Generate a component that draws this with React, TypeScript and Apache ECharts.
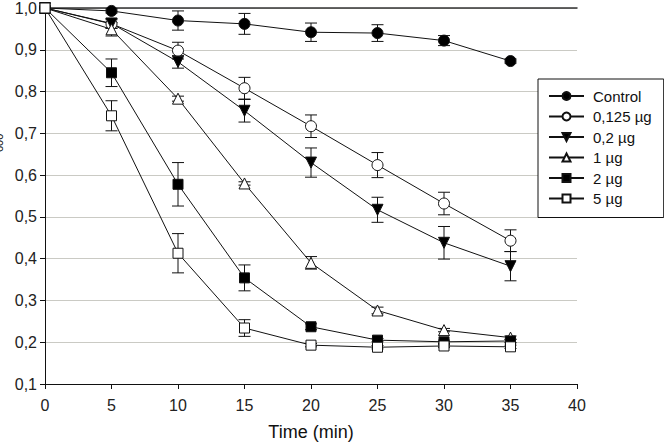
import React, { useEffect, useRef } from "react";
import * as echarts from "echarts";

// Sampling times (min)
const times = [0, 5, 10, 15, 20, 25, 30, 35];

// Axis ticks
const xTicks = { min: 0, max: 40, step: 5 };
const yTicks = { min: 0.1, max: 1.0, step: 0.1 };

// Series names as shown in the legend
const names = ["Control", "0,125 µg", "0,2 µg", "1 µg", "2 µg", "5 µg"];

// Mean OD600 per time point
const control = [1.0, 0.993, 0.97, 0.962, 0.942, 0.94, 0.922, 0.873];
const dose0125 = [1.0, 0.962, 0.898, 0.808, 0.717, 0.624, 0.532, 0.443];
const dose02 = [1.0, 0.963, 0.871, 0.754, 0.63, 0.517, 0.438, 0.382];
const dose1 = [1.0, 0.949, 0.783, 0.58, 0.39, 0.276, 0.229, 0.211];
const dose2 = [1.0, 0.845, 0.578, 0.354, 0.237, 0.205, 0.201, 0.203];
const dose5 = [1.0, 0.742, 0.413, 0.234, 0.193, 0.188, 0.191, 0.189];

// Standard deviations (error bars)
const controlErr = [0, 0.005, 0.023, 0.025, 0.022, 0.02, 0.012, 0.005];
const dose0125Err = [0, 0.01, 0.02, 0.026, 0.027, 0.03, 0.027, 0.026];
const dose02Err = [0, 0.012, 0.015, 0.027, 0.035, 0.03, 0.039, 0.035];
const dose1Err = [0, 0.016, 0.006, 0.004, 0.015, 0.008, 0.004, 0.004];
const dose2Err = [0, 0.033, 0.052, 0.031, 0.007, 0.004, 0.004, 0.004];
const dose5Err = [0, 0.036, 0.047, 0.02, 0.004, 0.004, 0.004, 0.004];

const means = [control, dose0125, dose02, dose1, dose2, dose5];
const errors = [controlErr, dose0125Err, dose02Err, dose1Err, dose2Err, dose5Err];

// Marker styles per series
const markers = [
  { symbol: "circle", size: 11, fill: "#000", rotate: 0 },
  { symbol: "circle", size: 11, fill: "#fff", rotate: 0 },
  { symbol: "triangle", size: 11, fill: "#000", rotate: 180 },
  { symbol: "triangle", size: 11, fill: "#fff", rotate: 0 },
  { symbol: "rect", size: 10, fill: "#000", rotate: 0 },
  { symbol: "rect", size: 10, fill: "#fff", rotate: 0 },
];

const FONT = '"Liberation Sans", Arial, sans-serif';
const INK = "#111";

function errorBarSeries(idx: number) {
  return {
    type: "custom",
    name: names[idx] + " err",
    silent: true,
    z: 1,
    encode: { x: 0, y: 1 },
    data: times.map((t, i) => [t, means[idx][i], errors[idx][i]]),
    renderItem: (_params: any, api: any) => {
      const x = api.value(0);
      const m = api.value(1);
      const e = api.value(2);
      if (!e) return null;
      const hi = api.coord([x, m + e]);
      const lo = api.coord([x, m - e]);
      const hw = 6;
      const st = { stroke: INK, lineWidth: 1 };
      return {
        type: "group",
        children: [
          { type: "line", shape: { x1: hi[0], y1: hi[1], x2: lo[0], y2: lo[1] }, style: st },
          { type: "line", shape: { x1: hi[0] - hw, y1: hi[1], x2: hi[0] + hw, y2: hi[1] }, style: st },
          { type: "line", shape: { x1: lo[0] - hw, y1: lo[1], x2: lo[0] + hw, y2: lo[1] }, style: st },
        ],
      };
    },
  };
}

function lineSeries(idx: number) {
  const mk = markers[idx];
  return {
    type: "line",
    name: names[idx],
    z: 3,
    data: times.map((t, i) => [t, means[idx][i]]),
    symbol: mk.symbol,
    symbolSize: mk.size,
    symbolRotate: mk.rotate,
    showAllSymbol: true,
    lineStyle: { color: INK, width: 1 },
    itemStyle: { color: mk.fill, borderColor: INK, borderWidth: 1 },
    emphasis: { disabled: true },
  };
}

export default function App() {
  const ref = useRef<HTMLDivElement>(null);

  useEffect(() => {
    if (!ref.current) return;
    const chart = echarts.init(ref.current, null, { renderer: "svg" });

    const option: any = {
      animation: false,
      backgroundColor: "#fff",
      grid: { left: 45, right: 87, top: 6, bottom: 56, containLabel: false },
      xAxis: [
        {
          type: "value",
          min: xTicks.min,
          max: xTicks.max,
          interval: xTicks.step,
          position: "bottom",
          name: "Time (min)",
          nameLocation: "middle",
          nameGap: 39,
          nameTextStyle: { fontFamily: FONT, fontSize: 18, color: INK },
          axisLine: { show: true, onZero: false, lineStyle: { color: INK, width: 1 } },
          axisTick: { show: true, inside: false, length: 5, lineStyle: { color: INK } },
          axisLabel: { fontFamily: FONT, fontSize: 16, color: "#222", margin: 13 },
          splitLine: { show: false },
        },
        {
          type: "value",
          min: xTicks.min,
          max: xTicks.max,
          interval: xTicks.step,
          position: "top",
          axisLine: { show: true, onZero: false, lineStyle: { color: "#333", width: 1.5 } },
          axisTick: { show: false },
          axisLabel: { show: false },
          splitLine: { show: false },
        },
      ],
      yAxis: {
        type: "value",
        min: yTicks.min,
        max: yTicks.max,
        interval: yTicks.step,
        axisLine: { show: true, onZero: false, lineStyle: { color: INK, width: 1 } },
        axisTick: { show: true, inside: false, length: 5, lineStyle: { color: INK } },
        axisLabel: {
          fontFamily: FONT,
          fontSize: 16,
          color: "#222",
          margin: 8,
          formatter: (v: number) => v.toFixed(1).replace(".", ","),
        },
        splitLine: { show: true, lineStyle: { color: "#cacac4", width: 1.2 } },
      },
      legend: {
        data: names,
        orient: "vertical",
        left: 538,
        top: 79,
        padding: [9, 12, 11, 10],
        itemWidth: 35,
        itemHeight: 10,
        itemGap: 4.5,
        backgroundColor: "#fff",
        borderColor: INK,
        borderWidth: 1,
        borderRadius: 0,
        selectedMode: false,
        textStyle: { fontFamily: FONT, fontSize: 15, lineHeight: 16, color: INK, padding: [0, 0, 0, 4] },
      },
      graphic: [
        {
          type: "group",
          x: 4,
          y: 152,
          rotation: Math.PI / 2,
          silent: true,
          children: [
            {
              type: "text",
              x: -24,
              y: -4,
              style: { text: "OD", font: `16px ${FONT}`, fill: INK, textAlign: "left", textVerticalAlign: "bottom" },
            },
            {
              type: "text",
              x: 0,
              y: 0,
              style: { text: "600", font: `11px ${FONT}`, fill: INK, textAlign: "left", textVerticalAlign: "bottom" },
            },
          ],
        },
      ],
      series: [
        ...names.map((_, i) => errorBarSeries(i)),
        ...names.map((_, i) => lineSeries(i)),
      ],
    };

    chart.setOption(option);
    return () => chart.dispose();
  }, []);

  return (
    <div
      ref={ref}
      style={{ position: "fixed", left: 0, top: 0, width: 664, height: 446 }}
    />
  );
}
